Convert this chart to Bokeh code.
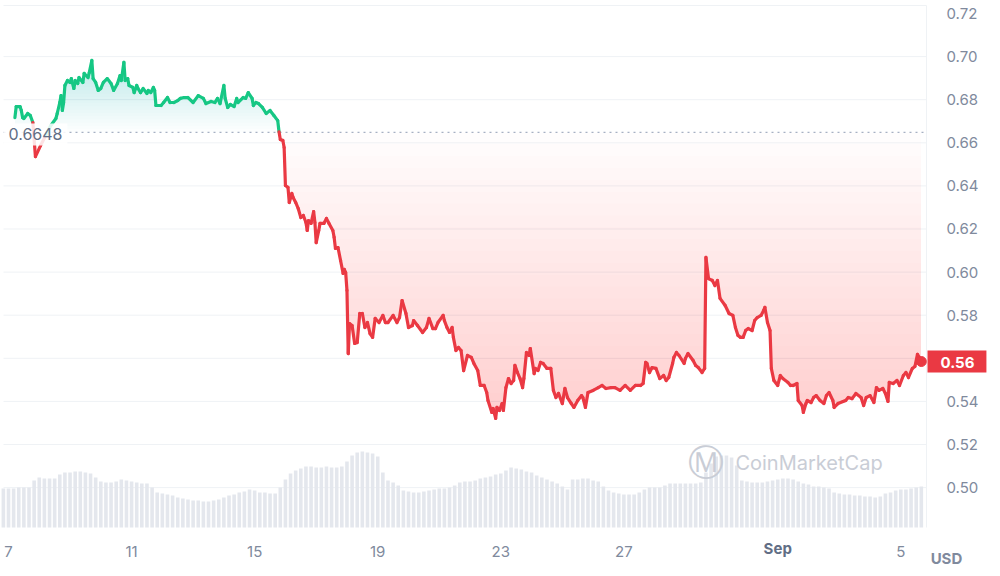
import numpy as np
from bokeh.plotting import figure
from bokeh.models import Range1d, FixedTicker, Label, ColumnDataSource
from bokeh.embed import file_html
from bokeh.resources import INLINE

# ---------------- data ----------------
# time axis: hours since 2023-08-07 00:00
BASELINE = 0.6648
price_hours = [
    5, 6, 9, 10, 11, 12, 15, 17, 19, 21,
    25, 29, 33, 37, 38, 40, 41, 42, 43, 44,
    46, 48, 49, 51, 52, 54, 55, 58, 59, 62,
    63, 65, 66, 68, 70, 72, 74, 77, 80, 82,
    85, 87, 88, 90, 91, 93, 94, 97, 98, 100,
    101, 103, 105, 108, 109, 111, 113, 114, 115, 119,
    121, 124, 126, 129, 132, 134, 137, 140, 144, 148,
    152, 154, 158, 161, 163, 165, 168, 169, 171, 173,
    176, 178, 179, 183, 185, 187, 190, 191, 193, 195,
    198, 201, 204, 207, 210, 211, 212, 214, 215, 216,
    218, 219, 221, 222, 224, 226, 228, 230, 232, 233,
    234, 236, 238, 239, 240, 242, 243, 246, 248, 250,
    253, 254, 255, 257, 259, 261, 262, 263, 264, 265,
    266, 268, 270, 272, 274, 276, 278, 280, 282, 284,
    286, 289, 292, 294, 296, 300, 303, 305, 307, 310,
    312, 315, 316, 319, 323, 326, 328, 331, 333, 335,
    339, 340, 342, 344, 346, 347, 349, 351, 353, 355,
    358, 361, 363, 366, 368, 371, 373, 374, 377, 378,
    380, 381, 383, 385, 386, 388, 390, 392, 394, 395,
    397, 399, 401, 402, 404, 406, 407, 410, 411, 413,
    415, 417, 420, 423, 425, 427, 429, 432, 434, 436,
    439, 441, 444, 447, 448, 450, 452, 456, 460, 463,
    466, 470, 473, 477, 481, 485, 489, 493, 495, 497,
    498, 500, 502, 505, 508, 511, 513, 515, 518, 519,
    521, 523, 527, 528, 530, 534, 536, 538, 541, 543,
    544, 546, 549, 551, 553, 555, 559, 562, 565, 567,
    569, 571, 573, 575, 577, 580, 582, 584, 587, 589,
    590, 592, 594, 595, 597, 600, 602, 604, 608, 610,
    612, 615, 616, 619, 620, 622, 623, 626, 628, 630,
    633, 636, 638, 640, 643, 644, 647, 651, 653, 655,
    658, 661, 665, 667, 669, 672, 675, 677, 679, 682,
    684, 686, 687, 690, 693, 695, 698, 700, 702, 705,
    707, 709, 711, 712,
]
price_usd = [
    0.6717, 0.6768, 0.6768, 0.6750, 0.6717, 0.6713, 0.6736, 0.6727, 0.6694, 0.6536,
    0.6587, 0.6634, 0.6680, 0.6713, 0.6736, 0.6787, 0.6819, 0.6750, 0.6787, 0.6866,
    0.6889, 0.6880, 0.6898, 0.6852, 0.6889, 0.6875, 0.6903, 0.6880, 0.6922, 0.6903,
    0.6926, 0.6982, 0.6898, 0.6880, 0.6843, 0.6852, 0.6880, 0.6898, 0.6875, 0.6843,
    0.6875, 0.6912, 0.6889, 0.6973, 0.6889, 0.6898, 0.6866, 0.6857, 0.6833, 0.6866,
    0.6852, 0.6833, 0.6852, 0.6829, 0.6843, 0.6833, 0.6857, 0.6843, 0.6773, 0.6773,
    0.6787, 0.6810, 0.6787, 0.6787, 0.6796, 0.6806, 0.6810, 0.6810, 0.6787, 0.6819,
    0.6806, 0.6782, 0.6792, 0.6787, 0.6806, 0.6782, 0.6866, 0.6806, 0.6764, 0.6778,
    0.6768, 0.6806, 0.6787, 0.6810, 0.6806, 0.6833, 0.6806, 0.6773, 0.6787, 0.6782,
    0.6764, 0.6736, 0.6750, 0.6727, 0.6703, 0.6651, 0.6615, 0.6611, 0.6578, 0.6402,
    0.6393, 0.6323, 0.6365, 0.6346, 0.6323, 0.6295, 0.6253, 0.6263, 0.6230, 0.6193,
    0.6239, 0.6226, 0.6281, 0.6230, 0.6137, 0.6193, 0.6226, 0.6226, 0.6249, 0.6226,
    0.6193, 0.6161, 0.6110, 0.6114, 0.6054, 0.5994, 0.6012, 0.5998, 0.5915, 0.5622,
    0.5761, 0.5752, 0.5669, 0.5673, 0.5808, 0.5808, 0.5743, 0.5766, 0.5715, 0.5697,
    0.5785, 0.5766, 0.5799, 0.5766, 0.5766, 0.5799, 0.5766, 0.5789, 0.5868, 0.5808,
    0.5743, 0.5752, 0.5775, 0.5752, 0.5720, 0.5743, 0.5785, 0.5738, 0.5738, 0.5766,
    0.5799, 0.5775, 0.5743, 0.5720, 0.5743, 0.5697, 0.5636, 0.5650, 0.5636, 0.5543,
    0.5613, 0.5604, 0.5576, 0.5543, 0.5474, 0.5474, 0.5441, 0.5404, 0.5349, 0.5367,
    0.5321, 0.5372, 0.5358, 0.5390, 0.5358, 0.5464, 0.5506, 0.5483, 0.5497, 0.5567,
    0.5534, 0.5506, 0.5464, 0.5506, 0.5627, 0.5613, 0.5645, 0.5529, 0.5553, 0.5543,
    0.5581, 0.5576, 0.5553, 0.5553, 0.5451, 0.5418, 0.5437, 0.5390, 0.5460, 0.5418,
    0.5390, 0.5372, 0.5404, 0.5427, 0.5418, 0.5372, 0.5441, 0.5451, 0.5464, 0.5474,
    0.5460, 0.5464, 0.5464, 0.5451, 0.5474, 0.5451, 0.5474, 0.5474, 0.5483, 0.5581,
    0.5576, 0.5534, 0.5557, 0.5553, 0.5506, 0.5520, 0.5497, 0.5511, 0.5576, 0.5604,
    0.5627, 0.5613, 0.5576, 0.5599, 0.5622, 0.5590, 0.5567, 0.5557, 0.5534, 0.5553,
    0.6068, 0.5970, 0.5961, 0.5938, 0.5961, 0.5878, 0.5845, 0.5808, 0.5799, 0.5743,
    0.5706, 0.5697, 0.5697, 0.5729, 0.5738, 0.5729, 0.5775, 0.5789, 0.5799, 0.5822,
    0.5836, 0.5766, 0.5729, 0.5553, 0.5497, 0.5474, 0.5520, 0.5506, 0.5488, 0.5474,
    0.5474, 0.5483, 0.5404, 0.5381, 0.5349, 0.5390, 0.5404, 0.5395, 0.5418, 0.5427,
    0.5404, 0.5390, 0.5427, 0.5441, 0.5404, 0.5372, 0.5390, 0.5400, 0.5404, 0.5418,
    0.5413, 0.5437, 0.5418, 0.5381, 0.5418, 0.5427, 0.5395, 0.5464, 0.5451, 0.5460,
    0.5437, 0.5400, 0.5488, 0.5483, 0.5497, 0.5474, 0.5520, 0.5534, 0.5511, 0.5553,
    0.5562, 0.5618, 0.5599, 0.5585,
]
# volume bars every 4 hours (millions USD)
vol_hours = list(range(-4, 716, 4))
vol_musd = [
    39, 39, 39, 40, 40, 40, 47, 50, 49, 49,
    49, 53, 55, 55, 56, 56, 55, 54, 50, 46,
    45, 45, 46, 48, 47, 46, 45, 44, 44, 40,
    35, 34, 33, 32, 30, 29, 28, 27, 27, 26,
    26, 27, 28, 30, 32, 33, 35, 36, 38, 37,
    35, 35, 34, 34, 40, 48, 54, 57, 59, 61,
    61, 60, 60, 61, 60, 60, 61, 66, 72, 75,
    76, 75, 74, 71, 55, 47, 45, 42, 37, 36,
    35, 35, 36, 37, 38, 39, 39, 40, 42, 45,
    46, 46, 47, 49, 50, 51, 53, 54, 57, 60,
    59, 58, 56, 55, 52, 50, 48, 46, 44, 41,
    38, 48, 48, 49, 49, 47, 46, 41, 37, 35,
    34, 33, 33, 33, 35, 38, 40, 40, 40, 42,
    44, 44, 44, 44, 44, 44, 45, 55, 64, 71,
    72, 72, 70, 62, 47, 46, 45, 45, 45, 46,
    47, 48, 49, 49, 48, 46, 44, 43, 41, 41,
    40, 39, 35, 34, 33, 33, 32, 32, 31, 31,
    30, 31, 34, 35, 37, 38, 38, 39, 40, 41,
]
price_ticks = [0.50, 0.52, 0.54, 0.56, 0.58, 0.60, 0.62, 0.64, 0.66, 0.68, 0.70, 0.72]
date_ticks = [0, 96, 192, 288, 384, 480, 600, 696]
date_labels = ["7", "11", "15", "19", "23", "27", "Sep", "5"]

# ---------------- layout constants (chart area inside the canvas) ----------------
X_LEFT, X_RIGHT = -3.9, 716.04        # plotting area, hours
Y_BOTTOM, Y_TOP = 0.48149, 0.7237     # plotting area, USD

GREEN = "#16c784"
RED = "#ea3943"
AXIS_GRAY = "#808a9d"
GRID = "#eff2f5"
FONT = "Inter"

p = figure(width=1000, height=576, output_backend="svg", toolbar_location=None,
           x_range=Range1d(-6.24, 773.76), y_range=Range1d(0.45875, 0.72603),
           y_axis_location="right",
           min_border_left=0, min_border_right=0, min_border_top=0, min_border_bottom=0)
p.outline_line_color = None
p.background_fill_color = "white"
p.border_fill_color = "white"
p.xgrid.visible = False
p.ygrid.visible = False

for ax in (p.xaxis[0], p.yaxis[0]):
    ax.axis_line_color = None
    ax.major_tick_line_color = None
    ax.minor_tick_line_color = None
    ax.major_label_text_color = AXIS_GRAY
    ax.major_label_text_font = FONT
    ax.major_label_text_font_size = "15px"

p.yaxis.ticker = FixedTicker(ticks=price_ticks)
p.yaxis.major_label_overrides = {t: f"{t:.2f}" for t in price_ticks}
p.yaxis.major_label_standoff = 14
p.yaxis.fixed_location = X_RIGHT

p.xaxis.ticker = FixedTicker(ticks=date_ticks)
p.xaxis.major_label_overrides = {t: (l if l != "Sep" else "") for t, l in zip(date_ticks, date_labels)}
p.xaxis.major_label_standoff = 13
p.xaxis.fixed_location = Y_BOTTOM

# grid lines limited to the chart area
grid_y = price_ticks[:-1] + [Y_TOP]
p.segment(x0=[X_LEFT] * len(grid_y), x1=[X_RIGHT] * len(grid_y), y0=grid_y, y1=grid_y,
          line_color=GRID, line_width=1)
p.segment(x0=[X_RIGHT], x1=[X_RIGHT], y0=[Y_BOTTOM], y1=[Y_TOP], line_color=GRID, line_width=1)

# volume bars
p.extra_y_ranges = {"vol": Range1d(-49, 527)}
p.vbar(x=vol_hours, top=vol_musd, bottom=0, width=2.8, y_range_name="vol",
       fill_color="#e4e7ed", line_color=None)

# gradient fills (stacked translucent layers)
price = np.array(price_usd)
for k in range(25):
    L = BASELINE - 0.0055 * k
    p.varea(x=price_hours, y1=np.minimum(price, L), y2=np.full_like(price, L),
            fill_color=RED, fill_alpha=0.013)
for k in range(25):
    L = BASELINE + 0.0015 * k
    p.varea(x=price_hours, y1=np.full_like(price, L), y2=np.maximum(price, L),
            fill_color=GREEN, fill_alpha=0.012)

# baseline (dotted)
p.segment(x0=[X_LEFT], x1=[X_RIGHT], y0=[BASELINE], y1=[BASELINE], line_color="#a6b0c3",
          line_dash="2 4", line_width=1.3)

# price line coloured by side of baseline
x0 = price_hours[:-1]; x1 = price_hours[1:]
y0 = price_usd[:-1]; y1 = price_usd[1:]
cols = [GREEN if (a + b) / 2 >= BASELINE else RED for a, b in zip(y0, y1)]
seg = ColumnDataSource(dict(x0=x0, y0=y0, x1=x1, y1=y1, c=cols))
p.segment(x0="x0", y0="y0", x1="x1", y1="y1", line_color="c", line_width=3.2,
          line_cap="round", source=seg)
p.scatter(x=[price_hours[-1]], y=[price_usd[-1]], size=10, color=RED)

# baseline label
p.add_layout(Label(x=X_LEFT, y=BASELINE, x_offset=0, y_offset=-2, text=f"{BASELINE:.4f}",
                   text_font=FONT, text_font_size="16px", text_color="#616e85",
                   text_align="left", text_baseline="middle",
                   background_fill_color="white", background_fill_alpha=0.85,
                   padding=5))

# current price tag
p.add_layout(Label(x=X_RIGHT, y=price_usd[-1], x_offset=1, text=f"{price_usd[-1]:.2f}",
                   text_font=FONT, text_font_size="15px", text_color="white",
                   text_font_style="bold", text_align="left", text_baseline="middle",
                   background_fill_color=RED, padding=dict(left=13, right=12, top=6, bottom=5)))

# bold month label
p.add_layout(Label(x=600, y=0.4717, text="Sep", text_font=FONT, text_font_size="15px",
                   text_font_style="bold", text_color="#616e85",
                   text_align="center", text_baseline="middle"))
# currency label
p.add_layout(Label(x=731.6, y=0.4671, text="USD", text_font=FONT, text_font_size="15px",
                   text_font_style="bold", text_color=AXIS_GRAY,
                   text_align="center", text_baseline="middle"))

# watermark
p.add_layout(Label(x=544.4, y=0.5117, text="\u24C2", text_font="DejaVu Sans",
                   text_font_size="36px", text_color="#c9cdd6",
                   text_align="center", text_baseline="middle"))
p.add_layout(Label(x=567, y=0.5112, text="CoinMarketCap", text_font=FONT,
                   text_font_size="20px", text_color="#c9cdd6",
                   text_align="left", text_baseline="middle"))

open("out.html", "w").write(file_html(p, INLINE))
